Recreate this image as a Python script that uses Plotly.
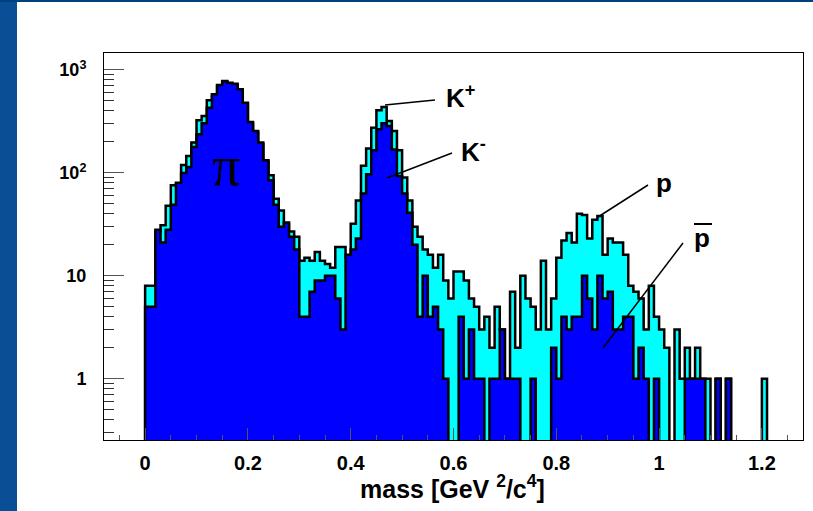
import plotly.graph_objects as go

# ---------------- data (counts per 0.01 bin, starting at 0) ----------------
bin_width = 0.01
negative_counts = [  # pi-, K-, anti-p  (blue)
    5, 5, 28, 21, 28, 49, 80, 100, 114, 178,
    237, 303, 430, 580, 715, 782, 753, 736, 649, 481,
    312, 255, 197, 133, 85, 49, 30, 33, 24, 18,
    4, 4, 7, 9, 9, 10, 10, 6, 3, 16,
    18, 23, 63, 97, 166, 265, 303, 286, 169, 93,
    63, 41, 20, 4, 10, 4, 5, 3, 1, 0,
    0, 4, 1, 3, 1, 1, 0, 1, 1, 3,
    1, 1, 1, 0, 0, 1, 0, 0, 0, 2,
    1, 4, 3, 4, 4, 10, 6, 3, 10, 6,
    7, 3, 3, 4, 4, 1, 2, 1, 0, 1,
    0, 0, 0, 0, 0, 1, 1, 1, 1, 0,
    0, 1, 0, 1, 0, 0, 0, 0, 0, 0,
    0,
]
positive_counts = [  # pi+, K+, p  (cyan)
    8, 8, 27, 31, 48, 76, 78, 119, 146, 197,
    324, 357, 507, 560, 700, 770, 740, 720, 630, 470,
    300, 245, 190, 128, 95, 56, 43, 32, 27, 24,
    14, 15, 14, 17, 14, 13, 12, 19, 19, 15,
    32, 54, 117, 173, 275, 405, 437, 320, 255, 166,
    90, 54, 30, 24, 18, 16, 12, 16, 9, 6,
    11, 11, 9, 6, 5, 3, 4, 2, 5, 3,
    1, 7, 2, 10, 6, 5, 3, 14, 3, 6,
    15, 22, 26, 21, 40, 39, 23, 35, 38, 16,
    23, 21, 21, 16, 8, 7, 6, 3, 8, 4,
    3, 2, 0, 3, 1, 2, 1, 2, 1, 1,
    0, 1, 0, 1, 0, 0, 0, 0, 0, 0,
    1,
]
x_tick_values = [0, 0.2, 0.4, 0.6, 0.8, 1.0, 1.2]
x_tick_labels = ["0", "0.2", "0.4", "0.6", "0.8", "1", "1.2"]
y_tick_values = [1, 10, 100, 1000]
y_tick_labels = ["1", "10", "10<sup>2</sup>", "10<sup>3</sup>"]

# ---------------- layout geometry (pixels) ----------------
W, H = 813, 511
L, R, T, B = 104, 10, 53, 71
PW, PH = W - L - R, H - T - B


def px(x):
    return (x - L) / PW


def py(y):
    return (T + PH - y) / PH


def step_polygon(counts, floor=0.03):
    xs, ys = [0.0], [floor]
    for i, c in enumerate(counts):
        v = c if c > 0 else floor
        x0, x1 = i * bin_width, (i + 1) * bin_width
        xs += [x0, x1]
        ys += [v, v]
    xs.append(len(counts) * bin_width)
    ys.append(floor)
    return xs, ys


fig = go.Figure()
for counts, color in [(positive_counts, "#00FFFF"), (negative_counts, "#0000FF")]:
    xs, ys = step_polygon(counts)
    fig.add_trace(go.Scatter(
        x=xs, y=ys, mode="lines", fill="toself", fillcolor=color,
        line=dict(color="black", width=2.5), hoverinfo="skip", showlegend=False,
    ))

minor_y = [m * 10 ** e for e in range(-1, 4) for m in range(2, 10) if 0.25 < m * 10 ** e < 1500]

fig.update_layout(
    width=W, height=H,
    margin=dict(l=L, r=R, t=T, b=B),
    paper_bgcolor="white", plot_bgcolor="white",
    font=dict(family="Liberation Sans", color="black"),
    showlegend=False,
    xaxis=dict(
        range=[-0.08, 1.28], showgrid=False, zeroline=False,
        showline=True, linecolor="black", linewidth=1, mirror=True,
        ticks="inside", ticklen=12, tickcolor="#555", tickwidth=1,
        tickvals=x_tick_values,
        ticktext=["<b>%s</b>" % t for t in x_tick_labels],
        tickfont=dict(size=20, family="Liberation Sans"),
        ticklabelstandoff=5,
        minor=dict(ticks="inside", ticklen=5, dtick=0.05, tick0=0, tickcolor="#555", showgrid=False),
    ),
    yaxis=dict(
        type="log", range=[-0.596, 3.165], showgrid=False, zeroline=False,
        showline=True, linecolor="black", linewidth=1, mirror=True,
        ticks="inside", ticklen=20, tickcolor="#555", tickwidth=1,
        tickvals=y_tick_values,
        ticktext=["<b>%s</b>" % t for t in y_tick_labels],
        tickfont=dict(size=18, family="Liberation Sans"),
        ticklabelstandoff=13,
        minor=dict(ticks="inside", ticklen=10, tickvals=minor_y, tickcolor="#333", showgrid=False),
    ),
)

# decorative slide frame
shapes = [
    dict(type="rect", xref="paper", yref="paper", x0=px(0), x1=px(17), y0=py(H), y1=py(0),
         fillcolor="#0A4F95", line=dict(width=0), layer="above"),
    dict(type="rect", xref="paper", yref="paper", x0=px(0), x1=px(W), y0=py(2), y1=py(0),
         fillcolor="#003F80", line=dict(width=0), layer="above"),
]
# annotation pointer lines
for (x0, y0, x1, y1) in [(385, 105, 435, 100), (387, 178, 452, 153),
                         (598, 217, 648, 185), (603, 348, 683, 243)]:
    shapes.append(dict(type="line", xref="paper", yref="paper",
                       x0=px(x0), y0=py(y0), x1=px(x1), y1=py(y1),
                       line=dict(color="black", width=1.5)))
# overline of anti-proton
shapes.append(dict(type="line", xref="paper", yref="paper",
                   x0=px(694), y0=py(224), x1=px(712), y1=py(224),
                   line=dict(color="black", width=2)))
fig.update_layout(shapes=shapes)

annotations = [
    dict(text="π", x=px(226), y=py(166), font=dict(family="Liberation Serif", size=56)),
    dict(text="<b>K<sup>+</sup></b>", x=px(460), y=py(96), font=dict(size=26)),
    dict(text="<b>K<sup>-</sup></b>", x=px(473), y=py(150), font=dict(size=26)),
    dict(text="<b>p</b>", x=px(664), y=py(183), font=dict(size=26)),
    dict(text="<b>p</b>", x=px(702), y=py(238), font=dict(size=26)),
    dict(text="<b>mass [GeV <sup>2</sup>/c<sup>4</sup>]</b>", x=px(452), y=py(487),
         font=dict(size=25)),
]
for a in annotations:
    a.update(xref="paper", yref="paper", showarrow=False, xanchor="center", yanchor="middle")
fig.update_layout(annotations=annotations)

fig.write_html("out.html")
